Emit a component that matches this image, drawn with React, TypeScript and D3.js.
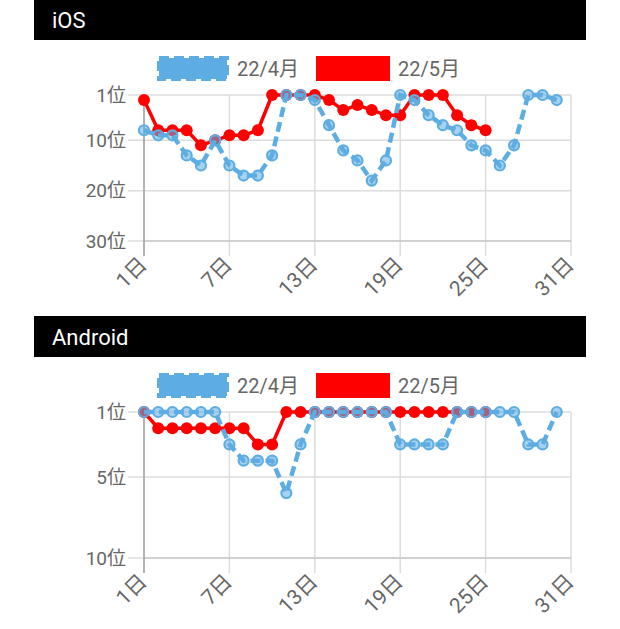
import React, { useRef, useEffect } from 'react';
import * as d3 from 'd3';

// 順位データ (1日〜)
const seriesLabels = ['22/4月', '22/5月'];
const iosApril = [8, 9, 9, 13, 15, 10, 15, 17, 17, 13, 1, 1, 2, 7, 12, 14, 18, 14, 1, 2, 5, 7, 8, 11, 12, 15, 11, 1, 1, 2];
const iosMay = [2, 8, 8, 8, 11, 10, 9, 9, 8, 1, 1, 1, 1, 2, 4, 3, 4, 5, 5, 1, 1, 1, 5, 7, 8];
const androidApril = [1, 1, 1, 1, 1, 1, 3, 4, 4, 4, 6, 3, 1, 1, 1, 1, 1, 1, 3, 3, 3, 3, 1, 1, 1, 1, 1, 3, 3, 1];
const androidMay = [1, 2, 2, 2, 2, 2, 2, 2, 3, 3, 1, 1, 1, 1, 1, 1, 1, 1, 1, 1, 1, 1, 1, 1, 1];
const dayTicks = [1, 7, 13, 19, 25, 31];
const iosTicks = [1, 10, 20, 30];
const androidTicks = [1, 5, 10];

const BLUE = '#5DADE2';
const RED = '#FF0000';
const FONT = "Roboto, 'Noto Sans CJK JP', sans-serif";
const WIDTH = 620;
const HEIGHT = 629;

interface Panel {
  title: string;
  top: number;
  april: number[];
  may: number[];
  ticks: number[];
}

const panels: Panel[] = [
  { title: 'iOS', top: 0, april: iosApril, may: iosMay, ticks: iosTicks },
  { title: 'Android', top: 317, april: androidApril, may: androidMay, ticks: androidTicks },
];

type G = d3.Selection<SVGGElement, unknown, null, undefined>;

const dibujaPanel = (g: G, p: Panel) => {
  const left = 144;
  const right = 571;
  const plotTop = 95;
  const plotBottom = 241;

  const x = d3.scaleLinear().domain([1, 31]).range([left, right]);
  const y = d3.scaleLinear().domain([1, d3.max(p.ticks) as number]).range([plotTop, plotBottom]);

  // barra de título
  g.append('rect').attr('x', 34).attr('y', -1).attr('width', 552).attr('height', 41).attr('fill', '#000');
  g.append('text')
    .attr('x', 52).attr('y', 28)
    .text(p.title)
    .style('fill', '#fff')
    .style('font-family', FONT)
    .style('font-size', '22px');

  // leyenda
  const ley = g.append('g').attr('transform', 'translate(157,56)');
  ley.append('rect')
    .attr('x', 2).attr('y', 2).attr('width', 68).attr('height', 21)
    .attr('fill', BLUE)
    .attr('stroke', BLUE)
    .attr('stroke-width', 4)
    .attr('stroke-dasharray', '10 5');
  ley.append('text').attr('x', 80).attr('y', 20).text(seriesLabels[0])
    .style('fill', '#666').style('font-family', FONT).style('font-size', '20px');
  ley.append('rect')
    .attr('x', 159).attr('y', 0).attr('width', 74).attr('height', 25)
    .attr('fill', RED);
  ley.append('text').attr('x', 241).attr('y', 20).text(seriesLabels[1])
    .style('fill', '#666').style('font-family', FONT).style('font-size', '20px');

  // rejilla horizontal
  g.selectAll('line.hgrid')
    .data(p.ticks)
    .enter().append('line')
    .attr('class', 'hgrid')
    .attr('x1', left - 16).attr('x2', right)
    .attr('y1', (d) => y(d)).attr('y2', (d) => y(d))
    .attr('stroke', '#dcdcdc')
    .attr('stroke-width', 1.5);

  // rejilla vertical
  g.selectAll('line.vgrid')
    .data(dayTicks)
    .enter().append('line')
    .attr('class', 'vgrid')
    .attr('x1', (d) => x(d)).attr('x2', (d) => x(d))
    .attr('y1', plotTop).attr('y2', plotBottom + 15)
    .attr('stroke', '#dcdcdc')
    .attr('stroke-width', 1.5);

  g.append('line')
    .attr('x1', left).attr('x2', right).attr('y1', plotBottom).attr('y2', plotBottom)
    .attr('stroke', '#c8c8c8').attr('stroke-width', 1.5);
  g.append('line')
    .attr('x1', left).attr('x2', left).attr('y1', plotTop).attr('y2', plotBottom + 15)
    .attr('stroke', '#a0a0a0').attr('stroke-width', 1.5);

  // etiquetas eje y
  g.selectAll('text.ylab')
    .data(p.ticks)
    .enter().append('text')
    .attr('class', 'ylab')
    .attr('x', 126)
    .attr('y', (d) => y(d))
    .attr('dy', '0.36em')
    .attr('text-anchor', 'end')
    .text((d) => `${d}位`)
    .style('fill', '#666')
    .style('font-family', FONT)
    .style('font-size', '19px');

  // etiquetas eje x
  g.selectAll('text.xlab')
    .data(dayTicks)
    .enter().append('text')
    .attr('class', 'xlab')
    .attr('text-anchor', 'end')
    .attr('transform', (d) => `translate(${x(d) + 4},${plotBottom + 25}) rotate(-45)`)
    .text((d) => `${d}日`)
    .style('fill', '#666')
    .style('font-family', FONT)
    .style('font-size', '21px');

  const linea = d3.line<number>()
    .x((d, i) => x(i + 1))
    .y((d) => y(d));

  // 22/5月 (rojo) debajo
  g.append('path')
    .attr('d', linea(p.may))
    .attr('fill', 'none')
    .attr('stroke', RED)
    .attr('stroke-width', 3.5)
    .attr('stroke-linejoin', 'round');
  g.selectAll('circle.may')
    .data(p.may)
    .enter().append('circle')
    .attr('class', 'may')
    .attr('cx', (d, i) => x(i + 1))
    .attr('cy', (d) => y(d))
    .attr('r', 6)
    .attr('fill', RED);

  // 22/4月 (azul) encima
  g.append('path')
    .attr('d', linea(p.april))
    .attr('fill', 'none')
    .attr('stroke', BLUE)
    .attr('stroke-width', 4.5)
    .attr('stroke-dasharray', '10 5');
  g.selectAll('circle.apr')
    .data(p.april)
    .enter().append('circle')
    .attr('class', 'apr')
    .attr('cx', (d, i) => x(i + 1))
    .attr('cy', (d) => y(d))
    .attr('r', 5)
    .attr('fill', 'rgba(93,173,226,0.55)')
    .attr('stroke', BLUE)
    .attr('stroke-width', 2.2);
};

const App: React.FC = () => {
  const svgRef = useRef<SVGSVGElement | null>(null);

  useEffect(() => {
    if (!svgRef.current) return;
    const svg = d3.select<SVGSVGElement, unknown>(svgRef.current);
    svg.selectAll('*').remove();
    svg.attr('width', WIDTH).attr('height', HEIGHT).style('background', '#fff');

    panels.forEach((p) => {
      const g = svg.append('g').attr('transform', `translate(0,${p.top})`);
      dibujaPanel(g, p);
    });
  }, []);

  return <svg ref={svgRef} style={{ position: 'absolute', left: 0, top: 0 }}></svg>;
};

export default App;
